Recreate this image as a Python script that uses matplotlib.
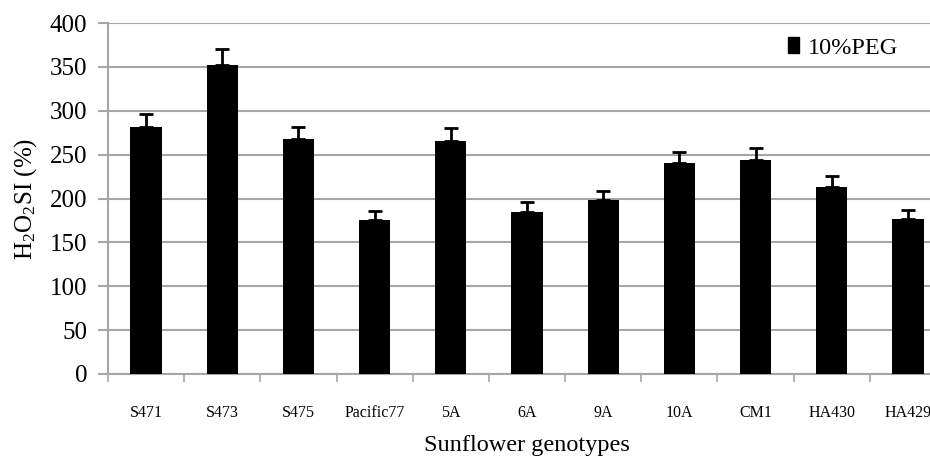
import numpy as np
import matplotlib
matplotlib.use('Agg')
import matplotlib.pyplot as plt
from matplotlib.patches import Patch

plt.rcParams['font.family'] = ['Liberation Serif', 'DejaVu Serif']
plt.rcParams['mathtext.fontset'] = 'custom'
plt.rcParams['mathtext.rm'] = 'Liberation Serif'
plt.rcParams['mathtext.it'] = 'Liberation Serif:italic'

# data
genotypes = ['S471', 'S473', 'S475', 'Pacific77', '5A', '6A', '9A', '10A', 'CM1', 'HA430', 'HA429']
h2o2si = [281, 352, 268, 176, 265, 185, 198, 240, 244, 213, 177]
err = [15, 18, 14, 10, 15, 11, 10.5, 12.5, 13, 13, 10]
series_name = '10%PEG'
y_ticks = [0, 50, 100, 150, 200, 250, 300, 350, 400]

W, H = 930, 462
fig = plt.figure(figsize=(W / 100, H / 100), dpi=100)
# plot area runs past the right edge of the picture, as in the reference
ax = fig.add_axes([108 / W, 1 - 374 / H, 838 / W, 351 / H])

grid_col = '#a6a6a6'
x = np.arange(len(genotypes))
ax.bar(x, h2o2si, width=0.41, color='black', zorder=3)
ax.errorbar(x, h2o2si, yerr=[np.zeros(len(err)), err], fmt='none',
            ecolor='black', elinewidth=2, capsize=5, capthick=2, zorder=4)

ax.set_xlim(-0.5, len(genotypes) - 0.5)
ax.set_ylim(0, 400)
ax.set_yticks(y_ticks)
ax.yaxis.grid(True, color=grid_col, linewidth=1.5, zorder=0)
ax.set_axisbelow(True)

for s in ['top', 'right']:
    ax.spines[s].set_visible(False)
for s in ['left', 'bottom']:
    ax.spines[s].set_color(grid_col)
    ax.spines[s].set_linewidth(1.5)

ax.tick_params(axis='y', length=7, width=1.5, color=grid_col, labelsize=18, pad=8)
ax.set_xticks(x)
ax.set_xticklabels(genotypes)
ax.tick_params(axis='x', which='major', length=0, labelsize=11.5, pad=22)
ax.set_xticks(np.arange(len(genotypes) + 1) - 0.5, minor=True)
ax.tick_params(axis='x', which='minor', length=6, width=1.2, color=grid_col)

ax.set_ylabel(r'H$_2$O$_2$SI (%)', fontsize=18, labelpad=8)
fig.text(527 / W, 1 - 445 / H, 'Sunflower genotypes', fontsize=17.5, ha='center', va='center')

handles = [Patch(facecolor='black', edgecolor='black', label=series_name)]
fig.legend(handles=handles, loc='center left', bbox_to_anchor=(788 / W, 1 - 48 / H),
           frameon=False, fontsize=17.5, handlelength=0.45, handleheight=0.6,
           handletextpad=0.35, borderpad=0, borderaxespad=0)

fig.savefig('out.png', dpi=100)
